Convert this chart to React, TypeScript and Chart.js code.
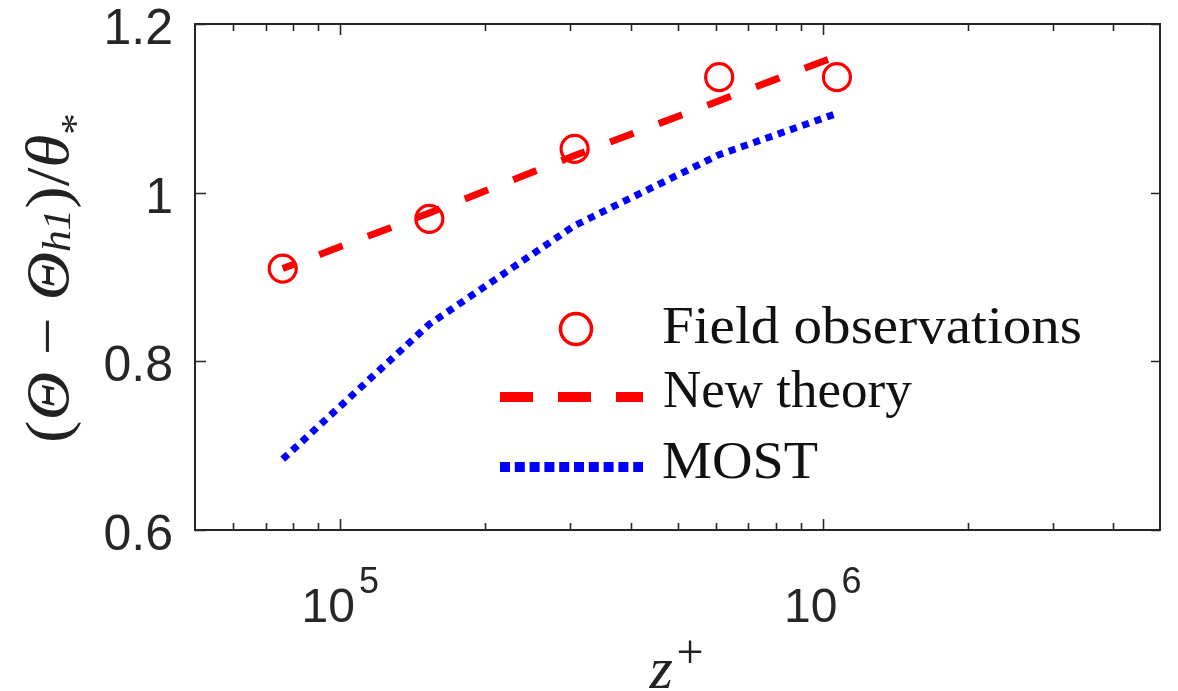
import React, { useEffect, useRef } from 'react';
import { Chart, registerables } from 'chart.js';
Chart.register(...registerables);

// ---- data ----
const zPlus = [7.6e4, 1.53e5, 3.06e5, 6.1e5, 1.07e6];
const fieldObs = [0.91, 0.969, 1.052, 1.137, 1.137];
const newTheory = [0.91, 0.976, 1.044, 1.109, 1.162];
const most = [0.684, 0.844, 0.961, 1.045, 1.094];

const yTicks = [0.6, 0.8, 1, 1.2];
const yTickLabels = ['0.6', '0.8', '1', '1.2'];
const xMajorTicks = [1e5, 1e6];
const xTickBase = ['10', '10'];
const xTickExp = ['5', '6'];
const xMin = 5e4;
const xMax = 5e6;

const legendLabels = ['Field observations', 'New theory', 'MOST'];

const RED = '#ff0000';
const BLUE = '#0000ff';
const AX = '#262626';

function drawFitted(ctx: CanvasRenderingContext2D, text: string, x: number, y: number, font: string, width?: number) {
  ctx.save();
  ctx.font = font;
  ctx.textAlign = 'left';
  ctx.textBaseline = 'alphabetic';
  const w = ctx.measureText(text).width;
  const sx = width ? width / w : 1;
  ctx.translate(x, y);
  ctx.scale(sx, 1);
  ctx.fillText(text, 0, 0);
  ctx.restore();
}

const overlay = {
  id: 'overlay',
  afterDraw(chart: any) {
    const { ctx, chartArea } = chart;
    const { left, right, top, bottom } = chartArea;
    const xs = chart.scales.x;
    const ys = chart.scales.y;
    ctx.save();

    // box
    ctx.strokeStyle = AX;
    ctx.lineWidth = 2;
    ctx.setLineDash([]);
    ctx.strokeRect(left, top, right - left, bottom - top);

    // x ticks (major + minor, inward, top & bottom)
    ctx.beginPath();
    ctx.lineWidth = 1.6;
    for (let e = 4; e <= 6; e++) {
      for (let m = 1; m <= 9; m++) {
        const v = m * Math.pow(10, e);
        if (v <= xMin || v >= xMax) continue;
        const px = Math.round(xs.getPixelForValue(v)) + 0.5;
        const len = m === 1 ? 11 : 7;
        ctx.moveTo(px, bottom);
        ctx.lineTo(px, bottom - len);
        ctx.moveTo(px, top);
        ctx.lineTo(px, top + len);
      }
    }
    // y ticks
    yTicks.forEach((v) => {
      const py = Math.round(ys.getPixelForValue(v)) + 0.5;
      ctx.moveTo(left, py);
      ctx.lineTo(left + 11, py);
      ctx.moveTo(right, py);
      ctx.lineTo(right - 9, py);
    });
    ctx.stroke();

    // y tick labels
    ctx.fillStyle = AX;
    ctx.font = '50px "Liberation Sans", Arial, sans-serif';
    ctx.textAlign = 'right';
    ctx.textBaseline = 'alphabetic';
    yTicks.forEach((v, i) => {
      const py = ys.getPixelForValue(v);
      ctx.fillText(yTickLabels[i], left - 22, py + 20);
    });

    // x tick labels 10^n
    xMajorTicks.forEach((v, i) => {
      const px = xs.getPixelForValue(v);
      ctx.font = '48px "Liberation Sans", Arial, sans-serif';
      const w1 = ctx.measureText(xTickBase[i]).width;
      ctx.font = '36px "Liberation Sans", Arial, sans-serif';
      const w2 = ctx.measureText(xTickExp[i]).width;
      const total = w1 + 4 + w2;
      const x0 = px - total / 2;
      ctx.textAlign = 'left';
      ctx.font = '48px "Liberation Sans", Arial, sans-serif';
      ctx.fillText(xTickBase[i], x0, 622);
      ctx.font = '36px "Liberation Sans", Arial, sans-serif';
      ctx.fillText(xTickExp[i], x0 + w1 + 4, 593);
    });

    // x axis title z^+
    ctx.fillStyle = '#222';
    ctx.textAlign = 'left';
    ctx.font = 'italic 60px "Liberation Serif", "Times New Roman", serif';
    const zc = (left + right) / 2;
    ctx.fillText('z', zc - 28, 688);
    ctx.font = '48px "Liberation Serif", "Times New Roman", serif';
    ctx.fillText('+', zc - 1, 668);

    // y axis title, rotated
    const runs = [
      { t: '(', f: '62px "Liberation Serif", serif', dy: 0 },
      { t: 'Θ', f: 'italic 62px "Liberation Serif", serif', dy: 0 },
      { t: ' − ', f: '62px "Liberation Serif", serif', dy: 0 },
      { t: 'Θ', f: 'italic 62px "Liberation Serif", serif', dy: 0 },
      { t: 'h1', f: 'italic 40px "Liberation Serif", serif', dy: 2 },
      { t: ')', f: '62px "Liberation Serif", serif', dy: 0 },
      { t: '/', f: '62px "Liberation Serif", serif', dy: 0 },
      { t: 'θ', f: 'italic 62px "Liberation Serif", serif', dy: 0 },
      { t: '*', f: '40px "Liberation Serif", serif', dy: 20 },
    ];
    let total = 0;
    const widths = runs.map((r) => {
      ctx.font = r.f;
      const w = ctx.measureText(r.t).width;
      total += w;
      return w;
    });
    const sx = 330 / total;
    ctx.save();
    ctx.translate(68, (top + bottom) / 2 + 1);
    ctx.rotate(-Math.PI / 2);
    ctx.scale(sx, 1);
    let cx = -total / 2;
    runs.forEach((r, i) => {
      ctx.font = r.f;
      ctx.fillText(r.t, cx, r.dy);
      cx += widths[i];
    });
    ctx.restore();

    // legend
    ctx.lineCap = 'butt';
    ctx.strokeStyle = RED;
    ctx.lineWidth = 3.5;
    ctx.beginPath();
    ctx.arc(576, 329, 15.5, 0, Math.PI * 2);
    ctx.stroke();

    ctx.lineWidth = 10;
    ctx.setLineDash([33, 25]);
    ctx.beginPath();
    ctx.moveTo(500, 397);
    ctx.lineTo(643, 397);
    ctx.stroke();

    ctx.strokeStyle = BLUE;
    ctx.setLineDash([10, 4.8]);
    ctx.beginPath();
    ctx.moveTo(500, 467);
    ctx.lineTo(643, 467);
    ctx.stroke();
    ctx.setLineDash([]);

    ctx.fillStyle = '#111';
    const lf = '53px "Liberation Serif", "Times New Roman", serif';
    drawFitted(ctx, legendLabels[0], 662, 343, lf, 420);
    drawFitted(ctx, legendLabels[1], 663, 407, lf);
    drawFitted(ctx, legendLabels[2], 662, 478, lf, 156);

    ctx.restore();
  },
};

export default function App() {
  const ref = useRef<HTMLCanvasElement>(null);
  useEffect(() => {
    const chart = new Chart(ref.current as HTMLCanvasElement, {
      type: 'line',
      data: {
        datasets: [
          {
            label: legendLabels[0],
            data: zPlus.map((x, i) => ({ x, y: fieldObs[i] })),
            showLine: false,
            pointStyle: 'circle',
            pointRadius: 13.5,
            pointBorderWidth: 3.2,
            pointBorderColor: RED,
            pointBackgroundColor: 'rgba(0,0,0,0)',
            borderColor: RED,
          },
          {
            label: legendLabels[1],
            data: zPlus.map((x, i) => ({ x, y: newTheory[i] })),
            borderColor: RED,
            borderWidth: 7,
            borderDash: [25, 27],
            borderDashOffset: 13,
            borderCapStyle: 'butt',
            pointRadius: 0,
            tension: 0,
            fill: false,
          },
          {
            label: legendLabels[2],
            data: zPlus.map((x, i) => ({ x, y: most[i] })),
            borderColor: BLUE,
            borderWidth: 7,
            borderDash: [7, 6],
            borderCapStyle: 'butt',
            pointRadius: 0,
            tension: 0,
            fill: false,
          },
        ],
      },
      options: {
        responsive: false,
        animation: false,
        devicePixelRatio: 1,
        layout: { padding: { left: 195, right: 18, top: 24, bottom: 161 } },
        plugins: { legend: { display: false }, tooltip: { enabled: false } },
        scales: {
          x: { type: 'logarithmic', min: xMin, max: xMax, display: false },
          y: { type: 'linear', min: 0.6, max: 1.2, display: false },
        },
      },
      plugins: [overlay],
    } as any);
    return () => chart.destroy();
  }, []);
  return (
    <div style={{ position: 'fixed', left: 0, top: 0, width: 1178, height: 691, background: '#fff' }}>
      <canvas ref={ref} width={1178} height={691} style={{ display: 'block', width: 1178, height: 691 }} />
    </div>
  );
}
